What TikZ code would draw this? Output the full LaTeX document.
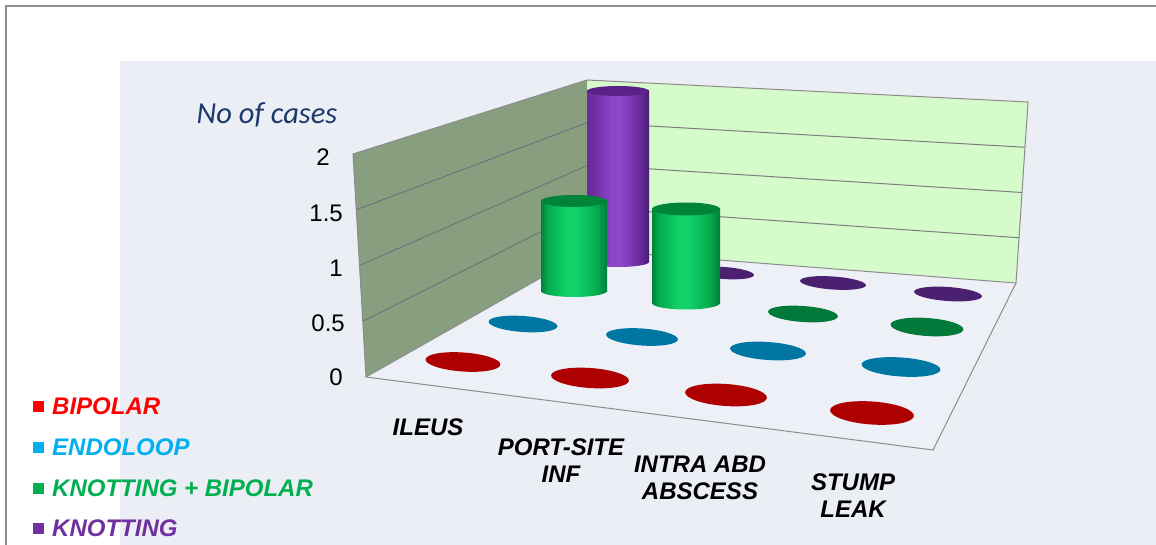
\documentclass[tikz,border=0pt]{standalone}
\usepackage{fontspec}
\setmainfont{Liberation Sans}
\newfontfamily\calfont{Carlito}
\usetikzlibrary{calc}
\definecolor{plotbg}{HTML}{ECEEF6}
\definecolor{floorc}{HTML}{EEF0F7}
\definecolor{backwall}{HTML}{D5FBCB}
\definecolor{leftwall}{HTML}{879E7F}
\definecolor{edgegray}{HTML}{8C8C8C}
\definecolor{gridL}{HTML}{72727E}
\definecolor{gridB}{HTML}{7E7E7E}
\definecolor{framegray}{HTML}{8E8E8E}
\definecolor{navy}{HTML}{1B3A6B}
\definecolor{legRed}{HTML}{FF0000}
\definecolor{legBlue}{HTML}{00B0F0}
\definecolor{legGreen}{HTML}{00B050}
\definecolor{legPurple}{HTML}{7030A0}
\definecolor{dRed}{HTML}{AE0000}
\definecolor{dBlue}{HTML}{0077A3}
\definecolor{dGreen}{HTML}{00793A}
\definecolor{dPurple}{HTML}{4C2070}
\definecolor{pD}{HTML}{4A1A74}
\definecolor{pM}{HTML}{6A2C9E}
\definecolor{pL}{HTML}{8C46C8}
\definecolor{pTop}{HTML}{5B2188}
\definecolor{gD}{HTML}{00803A}
\definecolor{gM}{HTML}{04AC4E}
\definecolor{gL}{HTML}{12D269}
\definecolor{gTop}{HTML}{00843A}
% visible part of a TikZ shading is 25bp--75bp
\pgfdeclarehorizontalshading{purpcyl}{100bp}{color(0bp)=(pM); color(25bp)=(pM); color(29bp)=(pM); color(45bp)=(pL); color(52bp)=(pL); color(67bp)=(pM); color(75bp)=(pD); color(100bp)=(pD)}
\pgfdeclarehorizontalshading{greencyl}{100bp}{color(0bp)=(gD); color(25bp)=(gD); color(30bp)=(gM); color(45bp)=(gL); color(52bp)=(gL); color(67bp)=(gM); color(75bp)=(gD); color(100bp)=(gD)}
\newcommand\flatdisc[5]{\fill[#1, shift={(#2,#3)}, rotate=-4] (0,0) ellipse [x radius=#4, y radius=#5];}
\newcommand\cylbar[7]{%
  \shade[shading=#1] (#3-#4,#5) rectangle (#3+#4,#6);
  \shade[shading=#1] (#3,#6) ellipse [x radius=#4, y radius=#7];
  \fill[#2] (#3,#5) ellipse [x radius=#4, y radius=#7];
}
\begin{document}
\begin{tikzpicture}[x=1pt,y=-1pt,
  lbl/.style={font=\fontsize{24}{27}\selectfont\bfseries\itshape, align=center, inner sep=0},
  num/.style={font=\fontsize{24}{27}\selectfont, anchor=east, inner sep=0},
  leg/.style={font=\fontsize{24}{27}\selectfont\bfseries\itshape, anchor=west, inner sep=0},
  legsq/.style={minimum size=11pt, inner sep=0, draw=none},
  edge/.style={draw=edgegray, line width=1pt},
  gridl/.style={draw=gridL, line width=1pt},
  gridb/.style={draw=gridB, line width=1pt}]
\useasboundingbox (0,0) rectangle (1156,545);
\fill[white] (0,0) rectangle (1156,545);
\fill[plotbg] (120,61) rectangle (1156,545);
\draw[framegray, line width=2pt] (6,545) -- (6,6) -- (1156,6);
% corners
\coordinate (LT) at (353,154);
\coordinate (CT) at (587,80);
\coordinate (RT) at (1028,102);
\coordinate (RB) at (1016,283);
\coordinate (CB) at (590,250);
\coordinate (LB) at (366,377);
\coordinate (FR) at (933,450);
% walls and floor
\fill[backwall] (CT) -- (RT) -- (RB) -- (CB) -- cycle;
\fill[leftwall] (LT) -- (CT) -- (CB) -- (LB) -- cycle;
\fill[floorc] (LB) -- (CB) -- (RB) -- (FR) -- cycle;
\foreach \t in {0.25,0.5,0.75}{
  \draw[gridl] ($(LB)!\t!(LT)$) -- ($(CB)!\t!(CT)$);
  \draw[gridb] ($(CB)!\t!(CT)$) -- ($(RB)!\t!(RT)$);
}
\draw[edge] (LB) -- (LT) -- (CT) -- (RT) -- (RB);
\draw[edge] (LB) -- (CB) -- (RB);
\draw[edge] (LB) -- (FR) -- (RB);
% back row: KNOTTING
\flatdisc{dPurple}{724}{273}{30}{6}
\flatdisc{dPurple}{833}{283}{33}{6.5}
\flatdisc{dPurple}{948}{294}{34}{7}
\cylbar{purpcyl}{pTop}{618}{31}{91}{262}{5}
% KNOTTING + BIPOLAR
\cylbar{greencyl}{gTop}{574}{33}{201}{291}{6}
\cylbar{greencyl}{gTop}{686}{34}{209}{303}{6.5}
\flatdisc{dGreen}{803}{314}{35}{8}
\flatdisc{dGreen}{927}{327}{36.5}{9}
% ENDOLOOP
\flatdisc{dBlue}{523}{324}{34.5}{8}
\flatdisc{dBlue}{642}{337}{36}{8.5}
\flatdisc{dBlue}{768}{351}{38}{9}
\flatdisc{dBlue}{901}{367}{39.5}{9.5}
% BIPOLAR
\flatdisc{dRed}{463}{362}{37.5}{9.5}
\flatdisc{dRed}{590}{378}{39}{10}
\flatdisc{dRed}{726}{395}{41}{11}
\flatdisc{dRed}{872}{413}{42}{11.5}
% axis title and numbers
\node[font=\calfont\itshape\fontsize{30.5}{33}\selectfont, text=navy, inner sep=0] (ytitle) at (267,115) {No of cases};
\node[num] (n2) at (330,157) {2};
\node[num] (n15) at (343,213) {1.5};
\node[num] (n1) at (343,268) {1};
\node[num] (n05) at (345,323) {0.5};
\node[num] (n0) at (343,377) {0};
% category labels
\node[lbl] (c1) at (428,427) {ILEUS};
\node[lbl] (c2) at (561,461) {PORT-SITE\\INF};
\node[lbl] (c3) at (700,478) {INTRA ABD\\ABSCESS};
\node[lbl] (c4) at (853,496) {STUMP\\LEAK};
% legend
\node[legsq, fill=legRed] (s1) at (38,406) {};
\node[leg, text=legRed] (l1) at (52,406) {BIPOLAR};
\node[legsq, fill=legBlue] (s2) at (38,447) {};
\node[leg, text=legBlue] (l2) at (52,447) {ENDOLOOP};
\node[legsq, fill=legGreen] (s3) at (38,488) {};
\node[leg, text=legGreen] (l3) at (52,488) {KNOTTING + BIPOLAR};
\node[legsq, fill=legPurple] (s4) at (38,528) {};
\node[leg, text=legPurple] (l4) at (52,528) {KNOTTING};
\end{tikzpicture}
\end{document}
